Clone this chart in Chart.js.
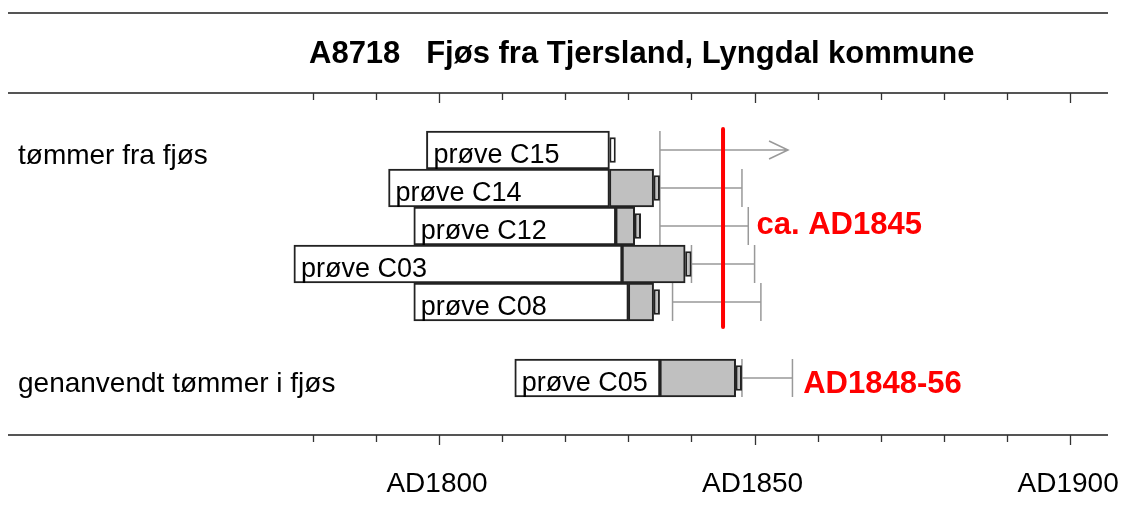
<!DOCTYPE html>
<html>
<head>
<meta charset="utf-8">
<script src="https://cdn.jsdelivr.net/npm/chart.js@4.4.0/dist/chart.umd.min.js"></script>
<style>
  body { margin: 0; background: #fff; }
  #wrap { width: 1122px; height: 509px; }
</style>
</head>
<body>
<div id="wrap"><canvas id="myChart"></canvas></div>
<script>
// rader (tomme rader gir luft over/under og mellom gruppene)
var rader = ['', 'prøve C15', 'prøve C14', 'prøve C12', 'prøve C03', 'prøve C08', '', 'prøve C05', ''];

// kjerneved (hvit)
var kjerneFra = [null, 1798, 1792, 1796, 1777, 1796, null, 1812, null];
var kjerneTil = [null, 1827, 1827, 1828, 1829, 1830, null, 1835, null];
// yteved (grå)
var yteFra = [null, null, 1827, 1828, 1829, 1830, null, 1835, null];
var yteTil = [null, null, 1834, 1831, 1839, 1834, null, 1847, null];
// siste ring (liten boks)
var ringFra = [null, 1827, 1834, 1831, 1839, 1834, null, 1847, null];
var ringTil = [null, 1828, 1835, 1832, 1840, 1835, null, 1848, null];
var ringFarge = ['', '#ffffff', '#c0c0c0', '#c0c0c0', '#c0c0c0', '#c0c0c0', '', '#c0c0c0', ''];
// sannsynlig felling (strek), pil = åpen slutt
var fellFra = [null, 1835, 1835, 1835, 1840, 1837, null, 1848, null];
var fellTil = [null, 1855.3, 1848, 1849, 1850, 1851, null, 1856, null];
var pil = [false, true, false, false, false, false, false, false, false];

var fellingAar = 1845;
var aksemerker = [1780, 1790, 1800, 1810, 1820, 1830, 1840, 1850, 1860, 1870, 1880, 1890, 1900];
var aksetekster = [1800, 1850, 1900];

var tittel = 'A8718   Fjøs fra Tjersland, Lyngdal kommune';
var gruppe1 = 'tømmer fra fjøs';
var gruppe2 = 'genanvendt tømmer i fjøs';
var dato1 = 'ca. AD1845';
var dato2 = 'AD1848-56';

function par(fra, til) {
    var ut = [];
    for (var i = 0; i < fra.length; i++) {
        ut.push(fra[i] == null ? null : [fra[i], til[i]]);
    }
    return ut;
}

var FONT = '"Liberation Sans", Arial, sans-serif';

var tegning = {
    id: 'tegning',
    beforeDatasetsDraw: function (chart) {
        var ctx = chart.ctx, x = chart.scales.x, y = chart.scales.y;
        var h = 38;
        ctx.save();
        ctx.strokeStyle = '#999';
        ctx.lineWidth = 1.5;
        for (var i = 0; i < rader.length; i++) {
            if (fellFra[i] == null) continue;
            var yc = y.getPixelForValue(i);
            var x0 = x.getPixelForValue(fellFra[i]);
            var x1 = x.getPixelForValue(fellTil[i]);
            ctx.beginPath();
            ctx.moveTo(x0, yc - h / 2); ctx.lineTo(x0, yc + h / 2);
            ctx.moveTo(x0, yc); ctx.lineTo(x1, yc);
            if (pil[i]) {
                ctx.moveTo(x1 - 19, yc - 9); ctx.lineTo(x1, yc); ctx.lineTo(x1 - 19, yc + 9);
            } else {
                ctx.moveTo(x1, yc - h / 2); ctx.lineTo(x1, yc + h / 2);
            }
            ctx.stroke();
        }
        ctx.restore();
    },
    afterDatasetsDraw: function (chart) {
        var ctx = chart.ctx, x = chart.scales.x, y = chart.scales.y;
        var a = chart.chartArea;
        ctx.save();

        // tekst i stolpene
        ctx.fillStyle = '#000';
        ctx.font = '27px ' + FONT;
        ctx.textBaseline = 'alphabetic';
        for (var i = 0; i < rader.length; i++) {
            if (kjerneFra[i] == null) continue;
            ctx.fillText(rader[i], x.getPixelForValue(kjerneFra[i]) + 7, y.getPixelForValue(i) + 12.5);
        }

        // rød strek for felling
        var xr = x.getPixelForValue(fellingAar);
        ctx.strokeStyle = '#ff0000';
        ctx.lineWidth = 4;
        ctx.lineCap = 'round';
        ctx.beginPath();
        ctx.moveTo(xr, y.getPixelForValue(1) - 21);
        ctx.lineTo(xr, y.getPixelForValue(5) + 25);
        ctx.stroke();

        ctx.fillStyle = '#ff0000';
        ctx.font = 'bold 31px ' + FONT;
        ctx.fillText(dato1, x.getPixelForValue(1850.3), y.getPixelForValue(3) + 8);
        ctx.fillText(dato2, x.getPixelForValue(1857.7), y.getPixelForValue(7) + 15);

        // akser
        ctx.strokeStyle = '#555';
        ctx.lineCap = 'butt';
        ctx.lineWidth = 2;
        ctx.beginPath();
        ctx.moveTo(a.left, 13); ctx.lineTo(a.right, 13);
        ctx.moveTo(a.left, a.top); ctx.lineTo(a.right, a.top);
        ctx.moveTo(a.left, a.bottom); ctx.lineTo(a.right, a.bottom);
        ctx.stroke();
        ctx.strokeStyle = '#333';
        ctx.lineWidth = 1.3;
        ctx.beginPath();
        aksemerker.forEach(function (v) {
            var px = Math.round(x.getPixelForValue(v)) + 0.5;
            var len = aksetekster.indexOf(v) >= 0 ? 10 : 7;
            ctx.moveTo(px, a.top); ctx.lineTo(px, a.top + len);
            ctx.moveTo(px, a.bottom); ctx.lineTo(px, a.bottom + len);
        });
        ctx.stroke();

        ctx.fillStyle = '#000';
        ctx.font = '28px ' + FONT;
        ctx.textAlign = 'center';
        aksetekster.forEach(function (v) {
            ctx.fillText('AD' + v, x.getPixelForValue(v) - 2, a.bottom + 57);
        });

        // tittel og gruppenavn
        ctx.textAlign = 'left';
        ctx.font = 'bold 31px ' + FONT;
        ctx.fillText(tittel, 309, 63);
        ctx.font = '28px ' + FONT;
        ctx.fillText(gruppe1, 18, y.getPixelForValue(1) + 14);
        ctx.fillText(gruppe2, 18, y.getPixelForValue(7) + 14);
        ctx.restore();
    }
};

var felles = {
    grouped: false,
    categoryPercentage: 1,
    borderColor: '#222',
    borderWidth: 2,
    borderSkipped: false
};

var chartdata = {
    labels: rader,
    datasets: [
        Object.assign({ label: 'kjerneved', data: par(kjerneFra, kjerneTil), backgroundColor: '#ffffff', barPercentage: 1 }, felles),
        Object.assign({ label: 'yteved', data: par(yteFra, yteTil), backgroundColor: '#c0c0c0', barPercentage: 1 }, felles),
        Object.assign({ label: 'ring', data: par(ringFra, ringTil), backgroundColor: ringFarge, barPercentage: 0.67 }, felles)
    ]
};

new Chart(document.getElementById('myChart'), {
    type: 'bar',
    data: chartdata,
    plugins: [tegning],
    options: {
        indexAxis: 'y',
        responsive: true,
        maintainAspectRatio: false,
        animation: false,
        layout: { padding: { left: 8, right: 14, top: 93, bottom: 74 } },
        plugins: { legend: { display: false }, tooltip: { enabled: false } },
        scales: {
            x: { type: 'linear', min: 1731.7, max: 1906, display: false },
            y: { type: 'category', offset: true, display: false }
        }
    }
});
</script>
</body>
</html>
